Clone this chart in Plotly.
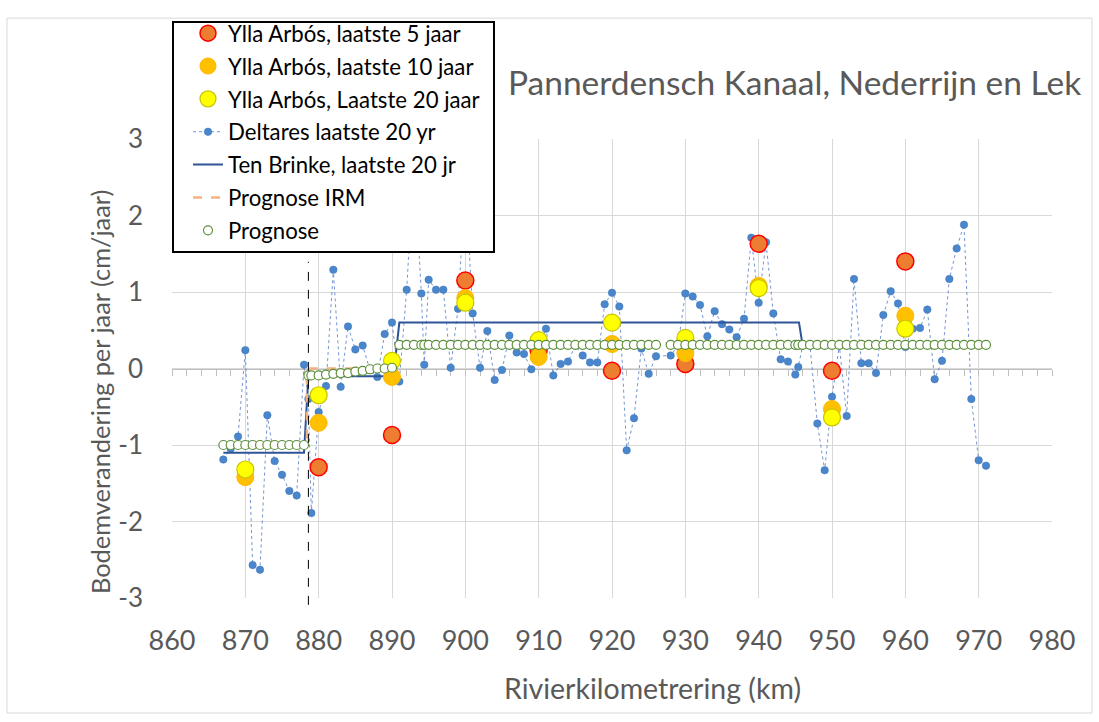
import plotly.graph_objects as go

# ---------------- data ----------------
ylla_km = [870, 880, 890, 900, 910, 920, 930, 940, 950, 960]
ylla_5 = [None, -1.29, -0.87, 1.15, 0.24, -0.03, 0.06, 1.63, -0.03, 1.40]
ylla_10 = [-1.42, -0.71, -0.11, 0.92, 0.15, 0.32, 0.20, 1.08, -0.53, 0.69]
ylla_20 = [-1.32, -0.35, 0.10, 0.86, 0.37, 0.60, 0.40, 1.05, -0.64, 0.52]

deltares_km = [867, 868, 869, 870, 871, 872, 873, 874, 875, 876, 877, 878, 878.6, 879,
               880, 881, 882, 883, 884, 885, 886, 887, 888, 889, 890, 891, 892, 893,
               894, 894.4, 895, 896, 897, 898, 899, 900, 901, 902, 903, 904, 905, 906,
               907, 908, 909, 910, 911, 912, 913, 914, 915, 916, 917, 918, 919, 920,
               921, 922, 923, 924, 925, 926, 928, 929, 930, 931, 932, 933, 934, 935,
               936, 937, 938, 939, 940, 941, 942, 943, 944, 945, 945.4, 946, 947, 948,
               949, 950, 951, 952, 953, 954, 955, 956, 957, 958, 959, 960, 961, 962,
               963, 964, 965, 966, 967, 968, 969, 970, 971]
deltares_val = [-1.19, -1.05, -0.89, 0.24, -2.57, -2.63, -0.61, -1.21, -1.39, -1.60, -1.66, 0.05, -0.40, -1.89,
                -0.57, -0.23, 1.29, -0.24, 0.55, 0.25, 0.30, -0.02, -0.11, 0.45, 0.60, -0.17, 1.03, 2.70,
                0.98, 0.05, 1.16, 1.03, 1.03, 0.01, 0.78, 2.50, 0.72, 0.01, 0.49, -0.15, -0.02, 0.43,
                0.21, 0.19, -0.01, 0.30, 0.52, -0.09, 0.06, 0.09, 0.30, 0.17, 0.08, 0.08, 0.84, 0.99,
                0.81, -1.07, -0.65, 0.26, -0.07, 0.16, 0.17, 0.30, 0.98, 0.94, 0.83, 0.42, 0.75, 0.58,
                0.51, 0.41, 0.65, 1.71, 0.86, 1.65, 0.72, 0.12, 0.09, -0.08, 0.02, 0.30, 0.30, -0.72,
                -1.33, -0.37, 0.30, -0.62, 1.17, 0.07, 0.07, -0.06, 0.70, 1.01, 0.85, 0.28, 0.52, 0.53,
                0.77, -0.14, 0.10, 1.17, 1.57, 1.88, -0.40, -1.20, -1.27]

tenbrinke_km = [867, 878.0, 878.6, 890.2, 891.0, 945.5, 946.0]
tenbrinke_val = [-1.10, -1.10, -0.10, -0.10, 0.60, 0.60, 0.30]

irm_km = [867, 878.4, 878.4, 890.0, 890.6, 971]
irm_val = [-1.00, -1.00, 0.00, 0.00, 0.33, 0.33]

prognose_km = ([867, 868, 869, 870, 871, 872, 873, 874, 875, 876, 877, 878,
                878.6, 879, 880, 881, 882, 883, 884, 885, 886, 887, 888, 889, 890]
               + [891, 892, 893, 894, 894.4, 895, 896, 897, 898, 899, 900, 901, 902, 903, 904,
                  905, 906, 907, 908, 909, 910, 911, 912, 913, 914, 915, 916, 917, 918, 919,
                  920, 921, 922, 923, 924, 925, 926, 928, 929, 930, 931, 932, 933, 934, 935,
                  936, 937, 938, 939, 940, 941, 942, 943, 944, 945, 945.4, 946, 947, 948, 949,
                  950, 951, 952, 953, 954, 955, 956, 957, 958, 959, 960, 961, 962, 963, 964,
                  965, 966, 967, 968, 969, 970, 971])
prognose_val = ([-1.0] * 12
                + [-0.09, -0.09, -0.09, -0.08, -0.07, -0.06, -0.06, -0.04, -0.03, -0.01, 0.0, 0.0, 0.01]
                + [0.31] * 83)

boundary_km = 878.6

x_ticks = [860, 870, 880, 890, 900, 910, 920, 930, 940, 950, 960, 970, 980]
y_ticks = [-3, -2, -1, 0, 1, 2, 3]
y_ticktext = ["-3", "-2", "-1", "0", "1", "2", "3"]

title_text = "Pannerdensch Kanaal, Nederrijn en Lek"
x_title = "Rivierkilometrering (km)"
y_title = "Bodemverandering per jaar (cm/jaar)"

# ---------------- layout helpers ----------------
W, H = 1099, 722
L, R, T, B = 172, 1052, 131, 598


def px_x(p):
    return (p - L) / (R - L)


def px_y(p):
    return (B - p) / (B - T)


FONT = "Lato"
GREY = "#595959"

fig = go.Figure()

fig.add_trace(go.Scatter(
    x=deltares_km, y=deltares_val, mode="lines+markers", name="Deltares laatste 20 yr",
    line=dict(color="rgba(68,114,196,0.75)", width=1, dash="dot"),
    marker=dict(size=7.5, color="#4A86CB", line=dict(color="#3D74B8", width=0.5)),
    legendrank=4, legendgroup="g4"))
fig.add_trace(go.Scatter(
    x=tenbrinke_km, y=tenbrinke_val, mode="lines", name="Ten Brinke, laatste 20 jr",
    line=dict(color="#2F5597", width=2), legendrank=5, legendgroup="g5"))
fig.add_trace(go.Scatter(
    x=irm_km, y=irm_val, mode="lines", name="Prognose IRM",
    line=dict(color="#F4B183", width=2.5, dash="dash"), legendrank=6, legendgroup="g6"))
fig.add_trace(go.Scatter(
    x=ylla_km, y=ylla_5, mode="markers", name="Ylla Arbós, laatste 5 jaar",
    marker=dict(size=17, color="#ED7D31", line=dict(color="#FF0000", width=1.5)),
    legendrank=1, legendgroup="g1"))
fig.add_trace(go.Scatter(
    x=ylla_km, y=ylla_10, mode="markers", name="Ylla Arbós, laatste 10 jaar",
    marker=dict(size=17, color="#FFC000", line=dict(color="#FFB800", width=1)),
    legendrank=2, legendgroup="g2"))
fig.add_trace(go.Scatter(
    x=ylla_km, y=ylla_20, mode="markers", name="Ylla Arbós, Laatste 20 jaar",
    marker=dict(size=17, color="#FFFF00", line=dict(color="#C9C400", width=1.2)),
    legendrank=3, legendgroup="g3"))
fig.add_trace(go.Scatter(
    x=prognose_km, y=prognose_val, mode="markers", name="Prognose", xaxis="x2",
    marker=dict(size=9, color="white", line=dict(color="#5E8F3A", width=1.2)),
    legendrank=7, legendgroup="g7"))

fig.update_layout(
    width=W, height=H,
    margin=dict(l=L, r=W - R, t=T, b=H - B),
    paper_bgcolor="white", plot_bgcolor="white",
    font=dict(family=FONT, color=GREY),
    showlegend=True,
    legend=dict(x=px_x(188), y=px_y(2), xanchor="left", yanchor="top",
                bgcolor="rgba(0,0,0,0)", borderwidth=0,
                font=dict(family=FONT, size=22.2, color="black"),
                tracegroupgap=1),
    xaxis=dict(range=[860, 980], tickvals=x_ticks, showgrid=True, gridcolor="#d9d9d9",
               gridwidth=1, zeroline=False, showline=False, ticks="",
               tickfont=dict(family=FONT, size=27, color=GREY), ticklabelstandoff=24),
    xaxis2=dict(range=[860, 980], overlaying="x", anchor="free", position=0.5,
                showgrid=False, zeroline=False, showline=True, linecolor="#bfbfbf",
                linewidth=1, ticks="outside", ticklen=6, tickcolor="#bfbfbf",
                tick0=860, dtick=2, showticklabels=False, layer="below traces"),
    yaxis=dict(range=[-3, 3], tickvals=y_ticks, ticktext=y_ticktext, showgrid=True,
               gridcolor="#d9d9d9", gridwidth=1, zeroline=False, showline=False, ticks="",
               tickfont=dict(family=FONT, size=26, color=GREY), ticklabelstandoff=28),
)

fig.add_annotation(text=title_text, xref="paper", yref="paper",
                   x=px_x(1083), y=px_y(73), xanchor="right", yanchor="middle",
                   showarrow=False, font=dict(family=FONT, size=33.5, color=GREY))
fig.add_annotation(text=x_title, xref="paper", yref="paper",
                   x=px_x(652), y=px_y(690), xanchor="center", yanchor="middle",
                   showarrow=False, font=dict(family=FONT, size=28.5, color=GREY))
fig.add_annotation(text=y_title, xref="paper", yref="paper", textangle=-90,
                   x=px_x(100), y=px_y(596), xanchor="center", yanchor="bottom",
                   showarrow=False, font=dict(family=FONT, size=25.4, color=GREY))

# chart area border
fig.add_shape(type="rect", xref="paper", yref="paper",
              x0=px_x(7), x1=px_x(1092), y0=px_y(715), y1=px_y(8),
              line=dict(color="#d9d9d9", width=1), layer="below")
# legend box
fig.add_shape(type="rect", xref="paper", yref="paper",
              x0=px_x(173), x1=px_x(494), y0=px_y(246), y1=px_y(12),
              line=dict(color="black", width=2), fillcolor="white", layer="above")
# boundary dashed line
fig.add_shape(type="line", xref="x", yref="paper",
              x0=boundary_km, x1=boundary_km, y0=px_y(605), y1=px_y(256),
              line=dict(color="black", width=1, dash="dash"), layer="above")

fig.write_html("out.html", config={"displayModeBar": False},
               post_script="document.body.style.margin='0';document.body.style.padding='0';"
                           "document.body.style.overflow='hidden';")
